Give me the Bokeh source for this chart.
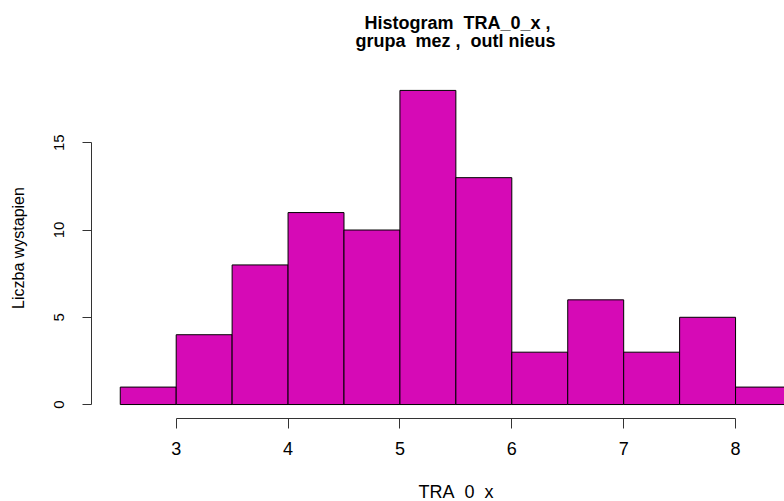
from bokeh.plotting import figure
from bokeh.models import Range1d, FixedTicker, Label
from bokeh.embed import file_html
from bokeh.resources import INLINE

# ---- data ----
bin_left = [2.5, 3.0, 3.5, 4.0, 4.5, 5.0, 5.5, 6.0, 6.5, 7.0, 7.5, 8.0]
bin_right = [3.0, 3.5, 4.0, 4.5, 5.0, 5.5, 6.0, 6.5, 7.0, 7.5, 8.0, 8.5]
counts = [1, 4, 8, 11, 10, 18, 13, 3, 6, 3, 5, 1]
x_ticks = [3, 4, 5, 6, 7, 8]
y_ticks = [0, 5, 10, 15]
# wide gaps of the original kept with a no-break space (SVG collapses plain runs)
title_lines = ["Histogram\u00a0 TRA_0_x ,", "grupa\u00a0 mez ,\u00a0 outl nieus"]
x_label = "TRA\u00a0 0\u00a0 x"
y_label = "Liczba wystapien"

FONT = "Liberation Sans"
BAR = "#D60AB6"
AXIS = "#333333"

p = figure(width=784, height=501, output_backend="svg", toolbar_location=None,
           x_range=Range1d(2.243, 8.4375), y_range=Range1d(-0.80, 18.74),
           min_border_left=91, min_border_right=0, min_border_top=77,
           min_border_bottom=83)
p.title.visible = False
p.outline_line_color = None
p.xgrid.visible = False
p.ygrid.visible = False
p.background_fill_color = "white"
p.border_fill_color = "white"

p.quad(left=bin_left, right=bin_right, top=counts, bottom=0,
       fill_color=BAR, line_color="black", line_width=1)

# x axis
xa = p.xaxis[0]
xa.ticker = FixedTicker(ticks=x_ticks)
xa.bounds = (min(x_ticks), max(x_ticks))
xa.axis_line_color = AXIS
xa.major_tick_line_color = AXIS
xa.major_tick_out = 10
xa.major_tick_in = 0
xa.minor_tick_line_color = None
xa.major_label_text_font = FONT
xa.major_label_text_font_size = "18px"
xa.major_label_text_color = "black"
xa.major_label_standoff = 13

# y axis
ya = p.yaxis[0]
ya.ticker = FixedTicker(ticks=y_ticks)
ya.bounds = (min(y_ticks), max(y_ticks))
ya.axis_line_color = AXIS
ya.major_tick_line_color = AXIS
ya.major_tick_out = 9
ya.major_tick_in = 0
ya.minor_tick_line_color = None
ya.major_label_orientation = "vertical"
ya.major_label_text_font = FONT
ya.major_label_text_font_size = "15px"
ya.major_label_text_color = "black"
ya.major_label_standoff = 18
ya.axis_label = y_label
ya.axis_label_text_font = FONT
ya.axis_label_text_font_size = "16px"
ya.axis_label_text_font_style = "normal"
ya.axis_label_text_color = "black"
ya.axis_label_standoff = 25

# title lines and x label as labels living in the side panels
t1 = Label(x=366, y=34.5, x_units="screen", y_units="screen",
           text=title_lines[0], text_align="center",
           text_baseline="alphabetic", text_font=FONT,
           text_font_size="18px", text_font_style="bold", text_color="black")
t2 = Label(x=364, y=36.5, x_units="screen", y_units="screen",
           text=title_lines[1], text_align="center",
           text_baseline="alphabetic", text_font=FONT,
           text_font_size="18px", text_font_style="bold", text_color="black")
xl = Label(x=364.5, y=-14.5, x_units="screen", y_units="screen",
           text=x_label, text_align="center",
           text_baseline="alphabetic", text_font=FONT,
           text_font_size="18px", text_color="black")
p.add_layout(t2, "above")
p.add_layout(t1, "above")
p.add_layout(xl, "below")

open("out.html", "w").write(file_html(p, INLINE))
